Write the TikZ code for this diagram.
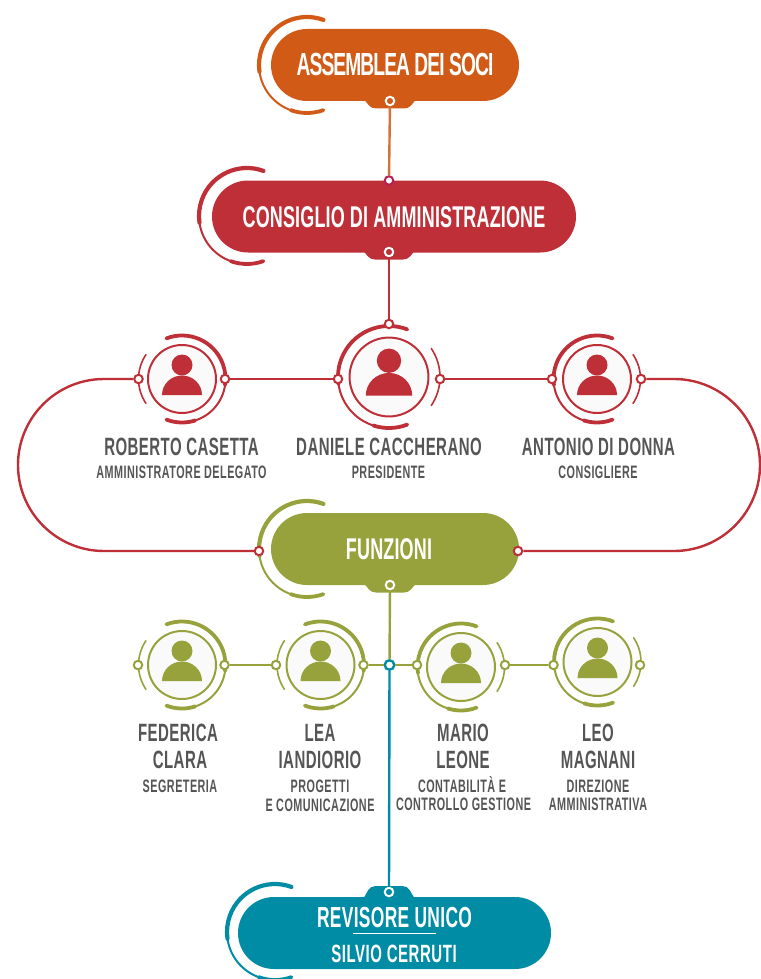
\documentclass[tikz,border=0pt]{standalone}
\usepackage{fontspec}
\newfontfamily\cond[FakeStretch=0.6]{Liberation Sans}
\newcommand{\lspace}[1]{\addfontfeature{LetterSpace=#1}}
\definecolor{corange}{HTML}{D05A16}
\definecolor{corangeline}{HTML}{D2733A}
\definecolor{cred}{HTML}{BE2F37}
\definecolor{ccrimson}{HTML}{B81E50}
\definecolor{cgreen}{HTML}{97A23D}
\definecolor{cteal}{HTML}{008CA5}
\definecolor{cgrey}{HTML}{555555}
\tikzset{
  pill/.style={rectangle,rounded corners=36pt,minimum height=72pt,inner sep=0pt,fill=#1},
  portw/.style={circle,minimum size=8.5pt,inner sep=0pt,line width=2pt,draw=white,fill=#1},
  portc/.style={circle,minimum size=8.5pt,inner sep=0pt,line width=2pt,draw=#1,fill=white},
  disc/.style={circle,inner sep=0pt,line width=2pt,draw=#1,fill=black!2},
  link/.style={line width=2.4pt,draw=#1},
  title/.style={anchor=base,inner sep=0pt,text=white,font=\cond\bfseries\fontsize{#1}{#1}\selectfont},
  who/.style={anchor=base,inner sep=0pt,text=cgrey,font=\cond\bfseries\fontsize{25}{25}\selectfont\lspace{1.8}},
  role/.style={anchor=base,inner sep=0pt,text=cgrey,font=\cond\bfseries\fontsize{18}{18}\selectfont\lspace{2.7}}
}
\newcommand{\tabshape}[4]{% x, y, colour, yscale
  \begin{scope}[shift={(#1,#2)},yscale=#4]
    \fill[#3] (-25.5,-1) .. controls (-22,3) and (-20,7.5) .. (-14,7.5) -- (14,7.5)
      .. controls (20,7.5) and (22,3) .. (25.5,-1) -- cycle;
  \end{scope}}
\newcommand{\pillarc}[3]{% cx, cy, colour
  \begin{scope}[shift={(#1,#2)},#3,line cap=round]
    \draw[line width=4.2pt] (70:48pt) arc[start angle=70,end angle=188,radius=48pt];
    \draw[line width=2pt] (186:48pt) arc[start angle=186,end angle=262,radius=48pt];
    \draw[line width=3.8pt] (250:48pt) arc[start angle=250,end angle=290,radius=48pt];
  \end{scope}}
\newcommand{\ringR}[4]{% x, y, R, colour : heavy arc on the right
  \begin{scope}[shift={(#1,#2)},#4,line cap=round]
    \draw[line width=3.8pt] (111:#3pt) arc[start angle=111,end angle=-8,radius=#3pt];
    \draw[line width=2pt] (-6:#3pt) arc[start angle=-6,end angle=-80,radius=#3pt];
    \draw[line width=3.8pt] (-72:#3pt) arc[start angle=-72,end angle=-111,radius=#3pt];
    \draw[line width=1.6pt] (146:#3pt) arc[start angle=146,end angle=214,radius=#3pt];
  \end{scope}}
\newcommand{\ringL}[4]{% x, y, R, colour : heavy arc on the left
  \begin{scope}[shift={(#1,#2)},#4,line cap=round]
    \draw[line width=3.8pt] (69:#3pt) arc[start angle=69,end angle=188,radius=#3pt];
    \draw[line width=2pt] (186:#3pt) arc[start angle=186,end angle=260,radius=#3pt];
    \draw[line width=3.8pt] (252:#3pt) arc[start angle=252,end angle=291,radius=#3pt];
    \draw[line width=1.6pt] (34:#3pt) arc[start angle=34,end angle=-34,radius=#3pt];
  \end{scope}}
\newcommand{\person}[5]{% name, x, y, scale, colour
  \node[disc=#5,minimum size=#4*68pt] (#1) at (#2,#3) {};
  \begin{scope}[shift={(#2,#3)},scale=#4,#5]
    \fill (0,-14) circle[radius=10.5pt];
    \fill (-20,16) arc[start angle=180,end angle=0,x radius=20pt,y radius=19.5pt] -- cycle;
  \end{scope}}
\begin{document}
\begin{tikzpicture}[x=1pt,y=-1pt]
\useasboundingbox (0,0) rectangle (760,979);
% pills
\tabshape{390}{101}{corange}{1}
\tabshape{389}{252}{cred}{1}
\tabshape{390}{585}{cgreen}{1}
\tabshape{389}{897}{cteal}{-1.45}
\pillarc{307}{65}{corange}
\pillarc{247}{216}{cred}
\pillarc{307}{549}{cgreen}
\pillarc{275}{932}{cteal}
\node[pill=corange,minimum width=248pt] (assemblea) at (395,65) {};
\node[pill=cred,minimum width=364pt] (consiglio) at (394,216.5) {};
\node[pill=cgreen,minimum width=248pt] (funzioni) at (395,549) {};
\node[pill=cteal,minimum width=313pt] (revisore) at (394.5,933) {};
\node[title=32] (t1) at (395,76) {\lspace{-2.8}ASSEMBLEA DEI SOCI};
\node[title=30] (t2) at (394,227) {\lspace{0.5}CONSIGLIO DI AMMINISTRAZIONE};
\node[title=30] (t3) at (389,559) {\lspace{0.5}FUNZIONI};
\node[title=29] (t4) at (394.5,927) {\lspace{1.2}REVISORE UNICO};
\node[title=25] (t5) at (394,962) {\lspace{2.2}SILVIO CERRUTI};
\draw[white,line width=1.4pt] (353,933.5) -- (436,933.5);
% people
\ringR{182}{379}{43.5}{cred}
\ringL{389}{377}{51}{cred}
\ringL{597}{379}{43.5}{cred}
\person{roberto}{182}{379}{1}{cred}
\person{daniele}{389}{377}{1.16}{cred}
\person{antonio}{597}{379}{1}{cred}
\ringR{182}{665}{43.5}{cgreen}
\ringR{320.5}{665}{43.5}{cgreen}
\ringL{461}{667}{43.5}{cgreen}
\ringL{597.5}{662}{43.5}{cgreen}
\person{federica}{182}{665}{1}{cgreen}
\person{lea}{320.5}{665}{1}{cgreen}
\person{mario}{461}{667}{1}{cgreen}
\person{leo}{597.5}{662}{1}{cgreen}
% ports
\node[portw=corange] (p1b) at (390,101) {};
\node[portc=ccrimson] (p2t) at (389,180.5) {};
\node[portw=cred] (p2b) at (389,252) {};
\node[portc=cred] (rob-l) at (138.5,379) {};
\node[portc=cred] (rob-r) at (225,379) {};
\node[portc=cred] (dan-t) at (389,324) {};
\node[portc=cred] (dan-l) at (338,379) {};
\node[portc=cred] (dan-r) at (440,379) {};
\node[portc=cred] (ant-l) at (552,379) {};
\node[portc=cred] (ant-r) at (641,379) {};
\node[portc=cred] (fun-l) at (259,551) {};
\node[portc=cred] (fun-r) at (518,551) {};
\node[portw=cgreen] (fun-b) at (390,585) {};
\node[portc=cgreen] (fed-l) at (138,665) {};
\node[portc=cgreen] (fed-r) at (224.5,665) {};
\node[portc=cgreen] (lea-l) at (276,665) {};
\node[portc=cgreen] (lea-r) at (363.5,665) {};
\node[portc=cteal,minimum size=9.5pt,line width=2.4pt] (junction) at (389.5,665) {};
\node[portc=cgreen] (mar-l) at (417,665) {};
\node[portc=cgreen] (mar-r) at (505,665) {};
\node[portc=cgreen] (leo-l) at (553.5,665) {};
\node[portc=cgreen] (leo-r) at (640,665) {};
\node[portw=cteal] (p4t) at (389,892) {};
% connectors
\draw[link=corangeline] (p1b) -- (p2t);
\draw[link=cred] (p2b) -- (dan-t);
\draw[link=cred] (rob-r) -- (dan-l);
\draw[link=cred] (dan-r) -- (ant-l);
\coordinate (loopL) at (104,379);
\coordinate (loopR) at (674,379);
\draw[link=cred] (rob-l) -- (loopL) arc[start angle=90,end angle=270,radius=86pt] -- (fun-l);
\draw[link=cred] (ant-r) -- (loopR) arc[start angle=90,end angle=-90,radius=86pt] -- (fun-r);
\draw[link=cgreen] (fun-b) -- (junction);
\draw[link=cgreen] (fed-r) -- (lea-l);
\draw[link=cgreen] (lea-r) -- (junction);
\draw[link=cgreen] (junction) -- (mar-l);
\draw[link=cgreen] (mar-r) -- (leo-l);
\draw[link=cteal] (junction) -- (p4t);
% labels
\node[who] (n1) at (181.5,455) {ROBERTO CASETTA};
\node[role] (r1) at (181.5,478) {AMMINISTRATORE DELEGATO};
\node[who] (n2) at (389,455) {DANIELE CACCHERANO};
\node[role] (r2) at (388.5,478) {PRESIDENTE};
\node[who] (n3) at (598.5,455) {ANTONIO DI DONNA};
\node[role] (r3) at (598,478) {CONSIGLIERE};
\node[who] (n4a) at (178,741) {FEDERICA};
\node[who] (n4b) at (180,768) {CLARA};
\node[role] (r4) at (180,792) {SEGRETERIA};
\node[who] (n5a) at (320,741) {LEA};
\node[who] (n5b) at (320,768) {IANDIORIO};
\node[role] (r5a) at (320,792) {PROGETTI};
\node[role] (r5b) at (320,811) {E COMUNICAZIONE};
\node[who] (n6a) at (463,741) {MARIO};
\node[who] (n6b) at (463,768) {LEONE};
\node[role] (r6a) at (462,792) {CONTABILITÀ E};
\node[role] (r6b) at (463.5,810) {CONTROLLO GESTIONE};
\node[who] (n7a) at (598,741) {LEO};
\node[who] (n7b) at (598,768) {MAGNANI};
\node[role] (r7a) at (598,792) {DIREZIONE};
\node[role] (r7b) at (598,810) {AMMINISTRATIVA};
\end{tikzpicture}
\end{document}
